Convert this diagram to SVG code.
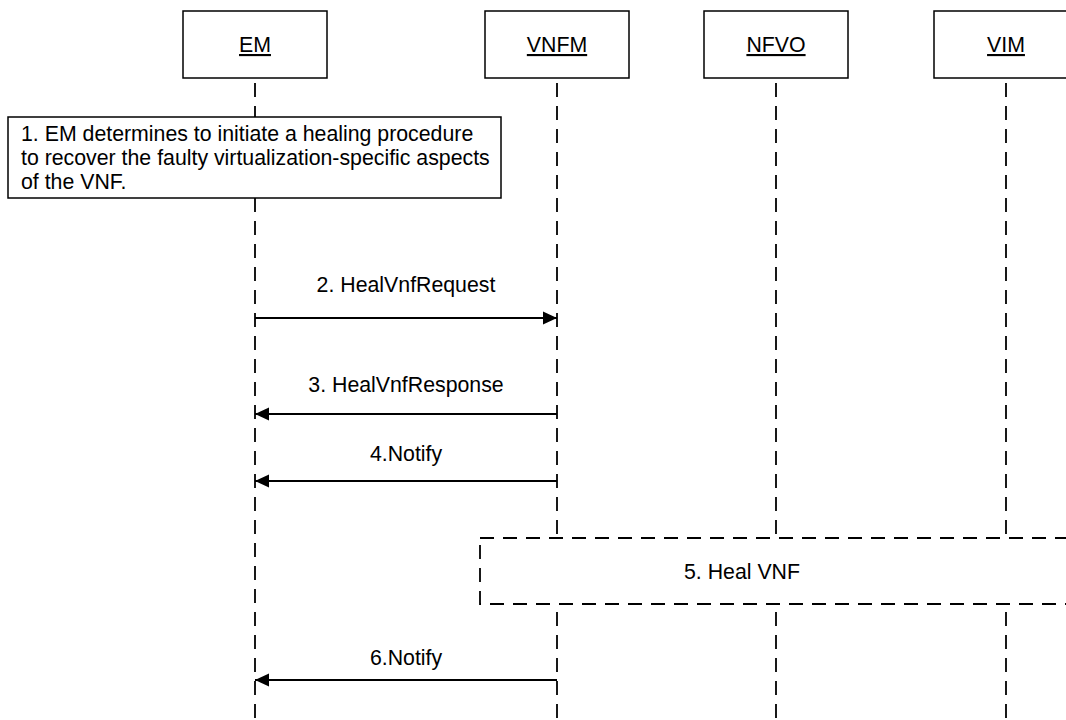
<svg xmlns="http://www.w3.org/2000/svg" width="1066" height="720" viewBox="0 0 1066 720">
<defs>
<style>
text{font-family:"Liberation Sans",Arial,sans-serif;font-size:21.3px;fill:#000}
.hdr{fill:#fff;stroke:#000;stroke-width:1.5}
.life{stroke:#000;stroke-width:1.8;stroke-dasharray:14 9;fill:none}
.msg{stroke:#000;stroke-width:2;fill:none}
.note{fill:#fff;stroke:#000;stroke-width:1.5}
.dbox{fill:#fff;stroke:#000;stroke-width:1.8;stroke-dasharray:14 9}
</style>
<marker id="ah" markerWidth="14" markerHeight="14" viewBox="0 0 14 14" refX="14" refY="7" orient="auto" markerUnits="userSpaceOnUse">
<path d="M0,0.5 L14,7 L0,13.5 Z" fill="#000"/>
</marker>
</defs>
<rect width="1066" height="720" fill="#fff"/>
<g id="lifelines">
<line class="life" x1="255" y1="83" x2="255" y2="720"/>
<line class="life" x1="557" y1="83" x2="557" y2="720"/>
<line class="life" x1="776" y1="83" x2="776" y2="720"/>
<line class="life" x1="1006" y1="83" x2="1006" y2="720"/>
</g>
<g id="EM"><rect class="hdr" x="183" y="11" width="144" height="67"/><text x="255" y="52" text-anchor="middle" text-decoration="underline">EM</text></g>
<g id="VNFM"><rect class="hdr" x="485" y="11" width="144" height="67"/><text x="557" y="52" text-anchor="middle" text-decoration="underline">VNFM</text></g>
<g id="NFVO"><rect class="hdr" x="704" y="11" width="144" height="67"/><text x="776" y="52" text-anchor="middle" text-decoration="underline">NFVO</text></g>
<g id="VIM"><rect class="hdr" x="934" y="11" width="144" height="67"/><text x="1006" y="52" text-anchor="middle" text-decoration="underline">VIM</text></g>
<g id="step1"><rect class="note" x="8" y="117" width="493" height="81"/>
<text x="21" y="141">1. EM determines to initiate a healing procedure</text>
<text x="21" y="165">to recover the faulty virtualization-specific aspects</text>
<text x="21" y="189">of the VNF.</text></g>
<g id="step5"><rect class="dbox" x="480" y="538" width="600" height="66"/><text x="742" y="579" text-anchor="middle">5. Heal VNF</text></g>
<g id="connectors">
<line class="msg" x1="255" y1="318" x2="557" y2="318" marker-end="url(#ah)"/>
<text x="406" y="292" text-anchor="middle">2. HealVnfRequest</text>
<line class="msg" x1="557" y1="414" x2="255" y2="414" marker-end="url(#ah)"/>
<text x="406" y="392" text-anchor="middle">3. HealVnfResponse</text>
<line class="msg" x1="557" y1="481" x2="255" y2="481" marker-end="url(#ah)"/>
<text x="406" y="461" text-anchor="middle">4.Notify</text>
<line class="msg" x1="557" y1="680" x2="255" y2="680" marker-end="url(#ah)"/>
<text x="406" y="665" text-anchor="middle">6.Notify</text>
</g>
</svg>
